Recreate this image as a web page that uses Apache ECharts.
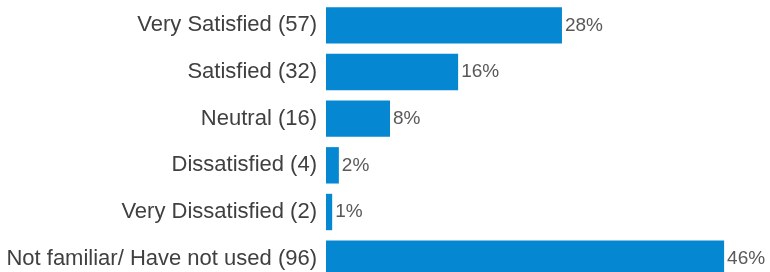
<!DOCTYPE html>
<html>
<head>
<meta charset="utf-8">
<script src="https://cdn.jsdelivr.net/npm/echarts@6/dist/echarts.min.js"></script>
<style>
    html, body { margin: 0; padding: 0; background: #fff; }
    #chart { width: 770px; height: 272px; }
</style>
</head>
<body>
<div id="chart"></div>
<script>
var categories = ['Very Satisfied (57)', 'Satisfied (32)', 'Neutral (16)', 'Dissatisfied (4)',
    'Very Dissatisfied (2)', 'Not familiar/ Have not used (96)'];
var percentValues = [27.5, 15.4, 7.46, 1.5, 0.72, 46.4];
var percentLabels = ['28%', '16%', '8%', '2%', '1%', '46%'];

var dom = document.getElementById('chart');
var myChart = echarts.init(dom);
var option = {
    animation: false,
    grid: {
        left: 326,
        top: 2,
        width: 429,
        height: 280,
        outerBoundsMode: 'none'
    },
    xAxis: {
        type: 'value',
        min: 0,
        max: 50,
        show: false
    },
    yAxis: {
        type: 'category',
        inverse: true,
        data: categories,
        axisLine: { show: false },
        axisTick: { show: false },
        axisLabel: {
            margin: 9,
            color: '#404040',
            fontSize: 22,
            fontFamily: 'Liberation Sans, Arial, sans-serif'
        }
    },
    series: [
        {
            type: 'bar',
            data: percentValues,
            barCategoryGap: '22%',
            itemStyle: { color: '#0588d1' },
            label: {
                show: true,
                position: 'right',
                distance: 3,
                color: '#595959',
                fontSize: 19,
                fontFamily: 'Liberation Sans, Arial, sans-serif',
                formatter: function (p) {
                    return percentLabels[p.dataIndex];
                }
            }
        }
    ]
};
myChart.setOption(option);
</script>
</body>
</html>
